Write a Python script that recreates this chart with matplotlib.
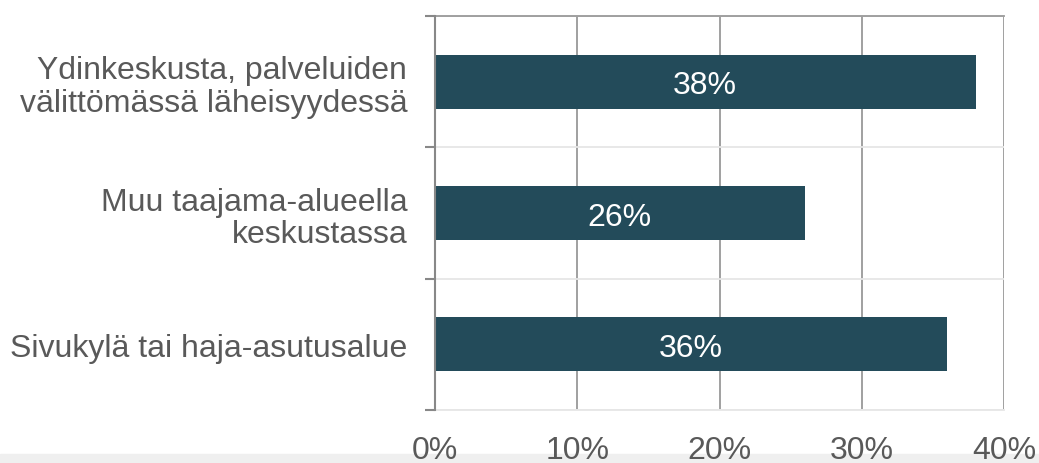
import numpy as np
import matplotlib
matplotlib.use("Agg")
import matplotlib.pyplot as plt
from matplotlib.patches import Rectangle

categories = [
    "Ydinkeskusta, palveluiden\nvälittömässä läheisyydessä",
    "Muu taajama-alueella\nkeskustassa",
    "Sivukylä tai haja-asutusalue",
]
values = [38, 26, 36]
xticks = [0, 10, 20, 30, 40]

plt.rcParams["font.family"] = ["Liberation Sans", "DejaVu Sans"]

BAR_COLOR = "#234b5a"
TEXT_COLOR = "#595959"
FS = 23

fig = plt.figure(figsize=(10.39, 4.64), dpi=100)
ax = fig.add_axes([435 / 1039, 1 - 411 / 464, (1004 - 435) / 1039, (411 - 17) / 464])

y = np.arange(len(categories))
ax.barh(y, values, height=0.41, color=BAR_COLOR, zorder=3)

for yi, v in zip(y, values):
    ax.text(v / 2, yi, f"{v}%", ha="center", va="center_baseline",
            color="white", fontsize=FS, zorder=4)

ax.set_xlim(0, 40)
ax.set_ylim(len(categories) - 0.5, -0.5)

ax.set_xticks(xticks)
ax.set_xticklabels([f"{t}%" for t in xticks])
ax.set_yticks(y)
ax.set_yticklabels(categories, linespacing=1.12)
ax.set_yticks(np.arange(len(categories) + 1) - 0.5, minor=True)

ax.tick_params(axis="x", length=0, pad=18, labelsize=FS, labelcolor=TEXT_COLOR)
ax.tick_params(axis="y", which="major", length=0, pad=20, labelsize=FS,
               labelcolor=TEXT_COLOR)
ax.tick_params(axis="y", which="minor", length=7.2, width=1.5, color="#888888")

# vertical grid lines
ax.grid(axis="x", color="#999999", linewidth=1.3, zorder=1)
# light horizontal separators
ax.grid(axis="y", which="minor", color="#e6e6e6", linewidth=1.3, zorder=1)
ax.set_axisbelow(True)

ax.spines["left"].set_color("#888888")
ax.spines["left"].set_linewidth(1.5)
ax.spines["left"].set_zorder(5)
ax.spines["top"].set_color("#999999")
ax.spines["top"].set_linewidth(1.3)
ax.spines["right"].set_visible(False)
ax.spines["bottom"].set_color("#e6e6e6")
ax.spines["bottom"].set_linewidth(1.3)

# light band at the bottom edge, behind the tick labels
fig.patches.append(Rectangle((0, 0), 1, 9 / 464, transform=fig.transFigure,
                             color="#efefef", zorder=-1))

fig.savefig("out.png", dpi=100)
